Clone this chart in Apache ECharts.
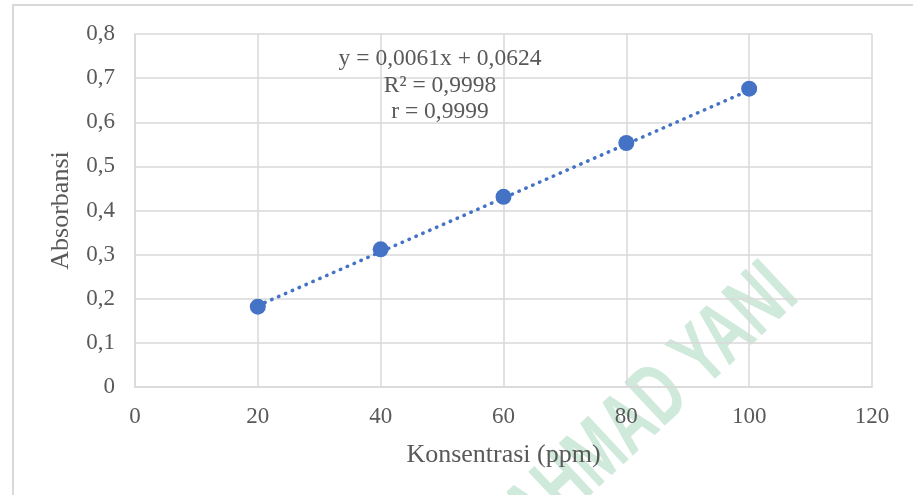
<!DOCTYPE html>
<html>
<head>
<meta charset="utf-8">
<script src="https://cdn.jsdelivr.net/npm/echarts@6/dist/echarts.min.js"></script>
<style>
html,body{margin:0;padding:0;background:#fff;}
#c{width:913px;height:495px;}
</style>
</head>
<body>
<div id="c"></div>
<script>
// Data
const concentration = [20, 40, 60, 80, 100];
const absorbance = [0.182, 0.312, 0.431, 0.553, 0.676];
// Linear trendline endpoints (y = 0,0061x + 0,0624)
const trendX = [20, 100];
const trendY = [0.1844, 0.6724];
const equationLines = ['y = 0,0061x + 0,0624', 'R² = 0,9998', 'r = 0,9999'];
const xTitle = 'Konsentrasi (ppm)';
const yTitle = 'Absorbansi';
const watermark = 'AHMAD YANI';

const chart = echarts.init(document.getElementById('c'), null, {renderer: 'canvas'});
const serif = '"Liberation Serif", "Times New Roman", serif';
const textCol = '#595959';
const gridCol = '#d9d9d9';

const option = {
  backgroundColor: '#ffffff',
  animation: false,
  grid: {left: 135, top: 34, right: 41, bottom: 108, containLabel: false},
  xAxis: {
    type: 'value', min: 0, max: 120, interval: 20,
    name: xTitle, nameLocation: 'middle', nameGap: 55,
    nameTextStyle: {fontFamily: serif, fontSize: 26, color: textCol},
    axisLine: {show: true, lineStyle: {color: gridCol, width: 1.5}},
    axisTick: {show: false},
    axisLabel: {fontFamily: serif, fontSize: 23, color: textCol, margin: 18},
    splitLine: {show: true, lineStyle: {color: gridCol, width: 1.5}}
  },
  yAxis: {
    type: 'value', min: 0, max: 0.8, interval: 0.1,
    name: yTitle, nameLocation: 'middle', nameGap: 61,
    nameTextStyle: {fontFamily: serif, fontSize: 26, color: textCol},
    axisLine: {show: true, lineStyle: {color: gridCol, width: 1.5}},
    axisTick: {show: false},
    axisLabel: {fontFamily: serif, fontSize: 23, color: textCol, margin: 20,
      formatter: v => (Math.round(v * 10) / 10).toString().replace('.', ',')},
    splitLine: {show: true, lineStyle: {color: gridCol, width: 1.5}}
  },
  series: [
    {
      type: 'line',
      data: trendX.map((x, i) => [x, trendY[i]]),
      symbol: 'none',
      lineStyle: {color: '#4472C4', width: 3.5, type: [0.5, 7], cap: 'round'},
      z: 2
    },
    {
      type: 'scatter',
      data: concentration.map((x, i) => [x, absorbance[i]]),
      symbol: 'circle', symbolSize: 16,
      itemStyle: {color: '#4472C4', opacity: 1},
      z: 3
    }
  ],
  graphic: [
    {
      type: 'rect', silent: true, z: -2,
      shape: {x: 13, y: 5, width: 1000, height: 1000},
      style: {fill: 'none', stroke: '#d9d9d9', lineWidth: 2}
    },
    {
      type: 'text', z: 100, silent: true,
      x: 440, y: 46,
      style: {
        text: equationLines.join('\n'),
        font: '23.5px ' + serif,
        fill: textCol, align: 'center', verticalAlign: 'top', lineHeight: 26.5
      }
    },
    {
      type: 'text', z: -1, silent: true,
      x: 652, y: 405, rotation: 43 * Math.PI / 180,
      scaleX: 0.8, scaleY: 1.2,
      style: {
        text: watermark,
        font: 'bold 72px "Liberation Sans", Arial, sans-serif',
        fill: '#cfe9db', align: 'center', verticalAlign: 'middle'
      }
    }
  ]
};
chart.setOption(option);
</script>
</body>
</html>
